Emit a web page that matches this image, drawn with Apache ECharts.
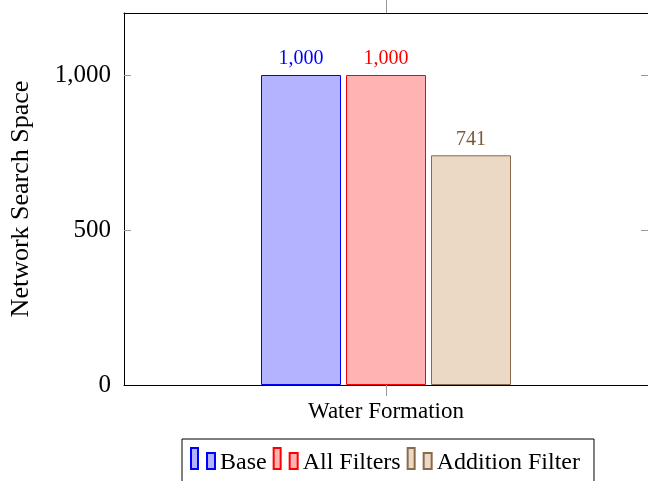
<!DOCTYPE html>
<html>
<head>
<meta charset="utf-8">
<script src="https://cdn.jsdelivr.net/npm/echarts@6/dist/echarts.min.js"></script>
<style>
  html, body { margin: 0; padding: 0; background: #fff; }
  #chart { width: 648px; height: 481px; }
</style>
</head>
<body>
<div id="chart"></div>
<script>
// Search-space sizes per filter setting
const categories = ['Water Formation'];
const seriesNames = ['Base', 'All Filters', 'Addition Filter'];
const baseValues = [1000];
const allFiltersValues = [1000];
const additionFilterValues = [741];
const yTicks = [0, 500, 1000];

const FONT = 'Liberation Serif, DejaVu Serif, serif';
const styles = [
  { fill: '#b3b3ff', stroke: '#0000ff', label: '#0000ff' },
  { fill: '#ffb3b3', stroke: '#ff0000', label: '#ff0000' },
  { fill: '#ebd9c6', stroke: '#8a6a4a', label: '#7a5838' }
];
const valueSets = [baseValues, allFiltersValues, additionFilterValues];

// two-bar legend glyph
const legendIcon = 'path://M0,0h7v21h-7z M16,5h8v16h-8z';

// inner tick marks only where they do not sit on a frame edge
const innerTicks = yTicks.filter(v => v > 0);

const chart = echarts.init(document.getElementById('chart'), null, { renderer: 'canvas' });

const series = seriesNames.map((name, i) => ({
  name: name,
  type: 'bar',
  data: valueSets[i],
  barWidth: 80,
  barGap: '6.25%',
  itemStyle: { color: styles[i].fill, borderColor: styles[i].stroke, borderWidth: 1 },
  label: {
    show: true,
    position: 'top',
    distance: 6,
    color: styles[i].label,
    fontFamily: FONT,
    fontSize: 20,
    formatter: p => p.value.toLocaleString('en-US')
  },
  emphasis: { disabled: true }
}));

chart.setOption({
  animation: false,
  grid: { left: 123, top: 13, right: -3, bottom: 96, containLabel: false },
  xAxis: [{
    type: 'category',
    data: categories,
    position: 'bottom',
    z: 3,
    axisLine: { onZero: false, lineStyle: { color: '#000', width: 1 } },
    axisTick: { show: true, inside: false, length: 11, alignWithLabel: true, lineStyle: { color: '#999' } },
    axisLabel: { fontFamily: FONT, fontSize: 23, color: '#000', margin: 15 },
    splitLine: { show: false }
  }, {
    type: 'category',
    data: categories,
    position: 'top',
    z: 3,
    axisLine: { onZero: false, lineStyle: { color: '#000', width: 1 } },
    axisTick: { show: true, inside: false, length: 13, alignWithLabel: true, lineStyle: { color: '#999' } },
    axisLabel: { show: false }
  }],
  yAxis: [{
    type: 'value',
    min: 0,
    max: 1200,
    interval: 500,
    position: 'left',
    name: 'Network Search Space',
    nameLocation: 'middle',
    nameGap: 90,
    nameTextStyle: { fontFamily: FONT, fontSize: 26, color: '#000' },
    axisLine: { show: true, onZero: false, lineStyle: { color: '#000', width: 1 } },
    axisTick: { show: true, inside: true, length: 7, customValues: innerTicks, lineStyle: { color: '#999' } },
    axisLabel: {
      fontFamily: FONT, fontSize: 25, color: '#000', margin: 13,
      customValues: yTicks,
      formatter: v => v.toLocaleString('en-US')
    },
    splitLine: { show: false }
  }, {
    type: 'value',
    min: 0,
    max: 1200,
    interval: 500,
    position: 'right',
    axisLine: { show: true, onZero: false, lineStyle: { color: '#000', width: 1 } },
    axisTick: { show: true, inside: true, length: 7, customValues: innerTicks, lineStyle: { color: '#999' } },
    axisLabel: { show: false },
    splitLine: { show: false }
  }],
  legend: {
    data: seriesNames,
    orient: 'horizontal',
    left: 182,
    top: 439,
    padding: [8, 14, 20, 8],
    borderColor: '#000',
    borderWidth: 1,
    itemGap: 6,
    itemWidth: 24,
    itemHeight: 21,
    itemTextGap: 6,
    icon: legendIcon,
    formatter: name => '{t|' + name + '}',
    textStyle: {
      fontFamily: FONT, fontSize: 24, color: '#000',
      rich: { t: { fontFamily: FONT, fontSize: 24, color: '#000', padding: [9, 0, 0, 0] } }
    },
    selectedMode: false
  },
  series: series
});
</script>
</body>
</html>
